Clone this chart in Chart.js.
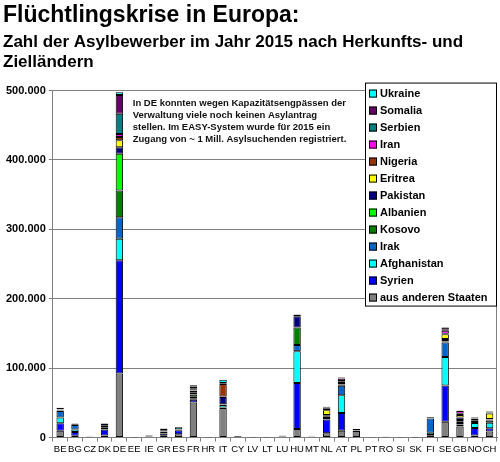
<!DOCTYPE html>
<html>
<head>
<meta charset="utf-8">
<script src="https://cdn.jsdelivr.net/npm/chart.js@4"></script>
<style>
  html, body { margin: 0; padding: 0; background: #fff; }
  #wrap { width: 500px; height: 462px; }
</style>
</head>
<body>
<div id="wrap"><canvas id="chart"></canvas></div>
<script>
// Zielländer
var countries = ['BE','BG','CZ','DK','DE','EE','IE','GR','ES','FR','HR','IT','CY','LV','LT',
                 'LU','HU','MT','NL','AT','PL','PT','RO','SI','SK','FI','SE','GB','NO','CH'];

// Herkunftsländer
//                BE     BG    CZ   DK     DE     EE   IE    GR    ES    FR     HR   IT     CY    LV   LT   LU   HU     MT    NL    AT    PL    PT   RO   SI   SK   FI    SE     GB     NO    CH
var andere     = [10000, 2500, 800, 3000, 92500, 150, 1700, 2500, 5000, 50500, 150, 42800, 800, 200, 200, 800, 12500, 1000, 6300, 9800, 9500, 600, 400, 150, 200, 2800, 23000, 16000, 3000, 8700];
var syrien     = [10500, 5500, 100, 8600, 163000, 30, 50, 3500, 5700, 4000, 20, 500, 1000, 20, 20, 600, 66000, 300, 19600, 25800, 300, 50, 500, 30, 40, 800, 52000, 2800, 11000, 4800];
var afghanistan= [8500, 3500, 50, 2300, 31000, 10, 100, 2500, 100, 2100, 10, 3800, 50, 10, 10, 200, 46000, 50, 2200, 25400, 100, 20, 50, 30, 20, 3500, 41000, 2300, 6900, 7800];
var irak       = [9500, 6800, 100, 1000, 31000, 10, 50, 600, 100, 2100, 10, 300, 100, 10, 10, 600, 9000, 50, 2800, 13600, 100, 20, 200, 20, 20, 20500, 21000, 2400, 2900, 3500];
var kosovo     = [300, 50, 10, 50, 38500, 5, 20, 50, 10, 3500, 5, 100, 10, 5, 5, 100, 25000, 5, 200, 2000, 50, 5, 5, 10, 5, 50, 1500, 100, 100, 1000];
var albanien   = [500, 50, 10, 100, 53000, 5, 200, 600, 50, 2500, 5, 700, 10, 5, 5, 100, 300, 10, 1000, 500, 50, 5, 5, 5, 5, 300, 2000, 1700, 200, 300];
var pakistan   = [700, 1500, 10, 100, 9500, 5, 1000, 3000, 200, 2800, 5, 10300, 100, 5, 5, 50, 16000, 10, 300, 3000, 50, 20, 50, 10, 10, 100, 1500, 3600, 300, 800];
var eritrea    = [300, 50, 5, 1700, 10000, 5, 20, 50, 10, 800, 5, 700, 20, 5, 5, 100, 100, 150, 7000, 300, 10, 10, 5, 5, 5, 100, 7000, 3800, 2900, 8000];
var nigeria    = [200, 50, 10, 50, 4500, 5, 250, 100, 300, 1500, 5, 18000, 50, 5, 5, 50, 300, 50, 300, 1000, 20, 10, 5, 5, 5, 100, 800, 1700, 100, 500];
var iran       = [400, 300, 20, 2700, 4500, 5, 50, 300, 50, 600, 5, 300, 50, 5, 5, 50, 1500, 20, 1500, 3400, 50, 10, 20, 5, 10, 400, 4200, 4000, 1300, 800];
var serbien    = [400, 50, 10, 50, 29000, 5, 20, 50, 10, 2500, 5, 200, 10, 5, 5, 100, 300, 5, 500, 800, 30, 5, 5, 5, 5, 50, 1500, 100, 100, 300];
var somalia    = [1300, 100, 5, 600, 27000, 5, 50, 200, 50, 700, 5, 800, 20, 5, 5, 50, 300, 200, 1600, 1000, 10, 20, 5, 5, 5, 1000, 3000, 300, 800, 1200];
var ukraine    = [500, 100, 400, 50, 4000, 50, 20, 100, 3400, 2000, 5, 4700, 30, 30, 30, 50, 300, 10, 1200, 300, 2300, 150, 10, 5, 10, 100, 500, 200, 100, 100];

// Reihenfolge von unten nach oben
var seriesNames  = ['aus anderen Staaten','Syrien','Afghanistan','Irak','Kosovo','Albanien',
                    'Pakistan','Eritrea','Nigeria','Iran','Serbien','Somalia','Ukraine'];
var seriesValues = [andere, syrien, afghanistan, irak, kosovo, albanien,
                    pakistan, eritrea, nigeria, iran, serbien, somalia, ukraine];
var seriesColors = ['#808080','#0000FF','#00FFFF','#0066CC','#008000','#00FF00',
                    '#000080','#FFFF00','#993300','#FF00FF','#008080','#660066','#00FFFF'];

var yTicks = [0, 100000, 200000, 300000, 400000, 500000];

var noteLines = [
  'In DE konnten wegen Kapazitätsengpässen der',
  'Verwaltung viele noch keinen Asylantrag',
  'stellen. Im EASY-System wurde für 2015 ein',
  'Zugang von ~ 1 Mill. Asylsuchenden registriert.'
];

var FONT = '"Liberation Sans", Arial, sans-serif';

function fmt(v) {
  return String(v).replace(/\B(?=(\d{3})+(?!\d))/g, '.');
}

var datasets = seriesNames.map(function (name, i) {
  return {
    label: name,
    data: seriesValues[i],
    backgroundColor: seriesColors[i],
    borderColor: '#000',
    borderWidth: 1,
    borderSkipped: false,
    barPercentage: 0.5,
    categoryPercentage: 1.0
  };
});

// Rahmen rechts, Hinweistext und Legende im Diagramm
var extras = {
  id: 'extras',
  afterDraw: function (chart) {
    var ctx = chart.ctx, a = chart.chartArea;
    ctx.save();
    ctx.strokeStyle = '#808080';
    ctx.lineWidth = 1;
    ctx.beginPath();
    ctx.moveTo(Math.round(a.right) - 0.5, a.top);
    ctx.lineTo(Math.round(a.right) - 0.5, a.bottom);
    ctx.stroke();

    // Hinweis
    ctx.fillStyle = '#111';
    ctx.font = 'bold 9.5px ' + FONT;
    ctx.textBaseline = 'middle';
    ctx.textAlign = 'left';
    noteLines.forEach(function (t, i) {
      ctx.fillText(t, a.left + 80, a.top + 13 + i * 12);
    });

    // Legende
    var bx = a.right - 132, by = a.top - 8, bw = 131, bh = 223;
    ctx.fillStyle = '#fff';
    ctx.fillRect(bx, by, bw, bh);
    ctx.strokeStyle = '#000';
    ctx.strokeRect(bx + 0.5, by + 0.5, bw, bh);
    ctx.font = 'bold 11px ' + FONT;
    var items = chart.data.datasets.slice().reverse();
    items.forEach(function (ds, i) {
      var cy = by + 11 + i * 17;
      ctx.fillStyle = ds.backgroundColor;
      ctx.fillRect(bx + 4, cy - 4, 8, 8);
      ctx.strokeStyle = '#000';
      ctx.strokeRect(bx + 4.5, cy - 3.5, 7, 7);
      ctx.fillStyle = '#000';
      ctx.fillText(ds.label, bx + 15, cy + 0.5);
    });
    ctx.restore();
  }
};

new Chart(document.getElementById('chart'), {
  type: 'bar',
  data: { labels: countries, datasets: datasets },
  plugins: [extras],
  options: {
    responsive: true,
    maintainAspectRatio: false,
    animation: false,
    layout: { padding: { left: 3, right: 3, top: 0, bottom: 5 } },
    plugins: {
      legend: { display: false },
      tooltip: { enabled: false },
      title: {
        display: true,
        text: 'Flüchtlingskrise in Europa:',
        align: 'start',
        color: '#000',
        font: { family: FONT, size: 23, weight: 'bold', lineHeight: 1.15 },
        padding: { top: 2, bottom: 0 }
      },
      subtitle: {
        display: true,
        text: ['Zahl der Asylbewerber im Jahr 2015 nach Herkunfts- und', 'Zielländern'],
        align: 'start',
        color: '#000',
        font: { family: FONT, size: 17, weight: 'bold', lineHeight: 1.18 },
        padding: { top: 4, bottom: 18 }
      }
    },
    scales: {
      x: {
        stacked: true,
        grid: { display: true, drawOnChartArea: false, offset: true, tickLength: 4, color: '#808080' },
        border: { color: '#808080' },
        ticks: {
          autoSkip: false, maxRotation: 0, minRotation: 0, color: '#000', padding: 2,
          font: { family: FONT, size: 9.5 }
        }
      },
      y: {
        stacked: true,
        min: 0,
        max: 500000,
        afterBuildTicks: function (axis) {
          axis.ticks = yTicks.map(function (v) { return { value: v }; });
        },
        grid: { color: '#808080', tickLength: 4 },
        border: { color: '#808080' },
        ticks: {
          color: '#000',
          font: { family: FONT, size: 11, weight: 'bold' },
          callback: function (v) { return fmt(v); }
        }
      }
    }
  }
});
</script>
</body>
</html>
